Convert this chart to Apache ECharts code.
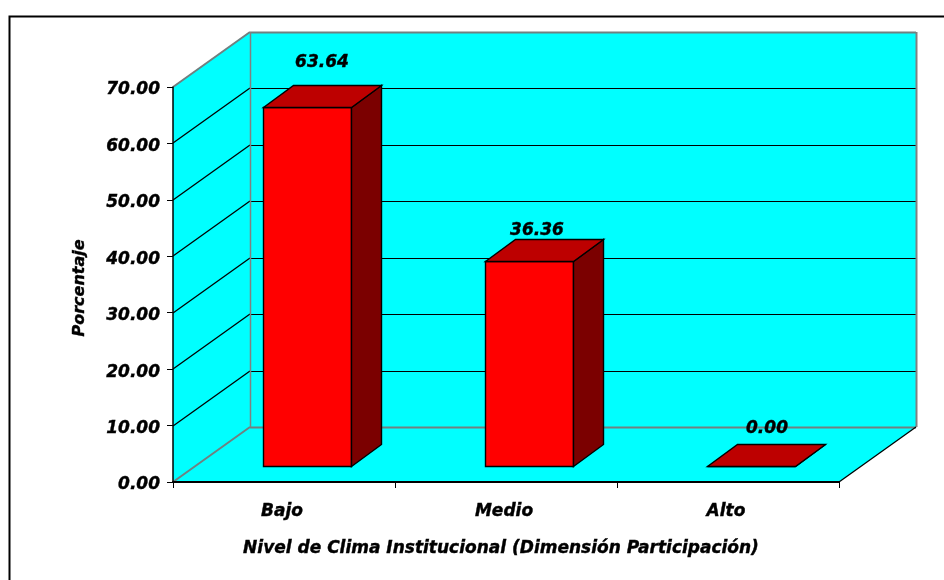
<!DOCTYPE html>
<html>
<head>
<meta charset="utf-8">
<title>Nivel de Clima Institucional</title>
<script src="https://cdn.jsdelivr.net/npm/echarts@6/dist/echarts.min.js"></script>
<style>
  html, body { margin: 0; padding: 0; background: #fff; }
  #chart { width: 944px; height: 580px; }
</style>
</head>
<body>
<div id="chart"></div>
<script>
const categories = ["Bajo", "Medio", "Alto"];
const values = [63.64, 36.36, 0.0];
const yTicks = [0, 10, 20, 30, 40, 50, 60, 70];

const FONT = '"DejaVu Sans", sans-serif';
// fake 3d: how far the back wall sits from the front plane
const DEPTH_X = 77;
const DEPTH_Y = 55;
// bar sits a bit behind the front plane
const BAR_X = 23;
const BAR_Y = 16;
const BAR_DX = 30;
const BAR_DY = 22;
// data labels were moved by hand in the original
const labelShift = [[0, -23], [-7, -9], [1, -16]];
// the original text is heavier than DejaVu bold
const HEAVY = { textBorderColor: "#000", textBorderWidth: 0.4 };

const chart = echarts.init(document.getElementById("chart"));

function line(x1, y1, x2, y2, color, width) {
  return {
    type: "line",
    shape: { x1, y1, x2, y2 },
    style: { stroke: color, lineWidth: width }
  };
}

function poly(points, fill, stroke) {
  return {
    type: "polygon",
    shape: { points },
    style: { fill, stroke: stroke || null, lineWidth: 1.4, lineJoin: "miter" }
  };
}

function renderWalls(params, api) {
  const r = params.coordSys;
  const left = r.x, right = r.x + r.width;
  const bottom = api.coord([0, 0])[1];
  const top = api.coord([0, yTicks[yTicks.length - 1]])[1];
  const children = [
    poly([[left, bottom], [left + DEPTH_X, bottom - DEPTH_Y], [left + DEPTH_X, top - DEPTH_Y], [left, top]], "#00FFFF"),
    poly([[left + DEPTH_X, top - DEPTH_Y], [right + DEPTH_X, top - DEPTH_Y], [right + DEPTH_X, bottom - DEPTH_Y], [left + DEPTH_X, bottom - DEPTH_Y]], "#00FFFF"),
    poly([[left, bottom], [right, bottom], [right + DEPTH_X, bottom - DEPTH_Y], [left + DEPTH_X, bottom - DEPTH_Y]], "#00FFFF")
  ];
  yTicks.forEach(function (t) {
    const y = Math.round(api.coord([0, t])[1]);
    const edge = t === 0 || t === 70;
    const color = edge ? "#708080" : "#000";
    children.push(line(left, y, left + DEPTH_X, y - DEPTH_Y, color, edge ? 2 : 1.3));
    children.push(line(left + DEPTH_X, y - DEPTH_Y + 0.5, right + DEPTH_X, y - DEPTH_Y + 0.5, color, edge ? 2 : 1));
  });
  children.push(line(left + DEPTH_X + 0.5, top - DEPTH_Y, left + DEPTH_X + 0.5, bottom - DEPTH_Y, "#808080", 1.5));
  children.push(line(right + DEPTH_X + 0.5, top - DEPTH_Y, right + DEPTH_X + 0.5, bottom - DEPTH_Y, "#808080", 2));
  children.push(line(right, bottom, right + DEPTH_X, bottom - DEPTH_Y, "#000", 1.3));
  return { type: "group", children };
}

function renderBar(params, api) {
  const i = api.value(0);
  const v = api.value(1);
  const half = (api.size([1, 0])[0] * 0.4) / 2;
  const c = api.coord([i, 0])[0] + BAR_X;
  const x1 = Math.round(c - half) + 0.5, x2 = Math.round(c + half) + 0.5;
  const yb = Math.round(api.coord([i, 0])[1] - BAR_Y) + 0.5;
  const yt = Math.round(api.coord([i, v])[1] - BAR_Y) + 0.5;
  const shift = labelShift[i];
  return {
    type: "group",
    children: [
      poly([[x1, yb], [x2, yb], [x2, yt], [x1, yt]], "#FF0000", "#000"),
      poly([[x2, yb], [x2 + BAR_DX, yb - BAR_DY], [x2 + BAR_DX, yt - BAR_DY], [x2, yt]], "#7B0000", "#000"),
      poly([[x1, yt], [x2, yt], [x2 + BAR_DX, yt - BAR_DY], [x1 + BAR_DX, yt - BAR_DY]], "#BD0000", "#000"),
      {
        type: "text",
        style: {
          x: c + BAR_DX / 2 + shift[0],
          y: yt - BAR_DY + shift[1],
          text: v.toFixed(2),
          fill: "#000",
          font: "italic bold 17px " + FONT,
          align: "center",
          verticalAlign: "middle",
          stroke: "#000",
          lineWidth: 0.4
        }
      }
    ]
  };
}

const option = {
  animation: false,
  backgroundColor: "#fff",
  textStyle: { fontFamily: FONT },
  graphic: [
    {
      type: "rect",
      shape: { x: 9.5, y: 16.5, width: 1000, height: 700 },
      style: { fill: null, stroke: "#000", lineWidth: 2 },
      silent: true
    }
  ],
  grid: { left: 173, right: 105, top: 87, bottom: 98 },
  xAxis: {
    type: "category",
    data: categories,
    z: 5,
    axisLine: { lineStyle: { color: "#000", width: 2 } },
    axisTick: { show: true, alignWithLabel: false, length: 6, lineStyle: { color: "#000", width: 1 } },
    axisLabel: Object.assign({ color: "#000", fontStyle: "italic", fontWeight: "bold", fontSize: 17, margin: 21, padding: [0, 4, 0, 0], fontFamily: FONT }, HEAVY),
    name: "Nivel de Clima Institucional (Dimensión Participación)",
    nameLocation: "middle",
    nameGap: 58,
    nameTextStyle: Object.assign({ color: "#000", fontStyle: "italic", fontWeight: "bold", fontSize: 17, fontFamily: FONT, padding: [0, 10, 0, 0] }, HEAVY)
  },
  yAxis: {
    type: "value",
    min: 0,
    max: 70,
    interval: 10,
    z: 5,
    splitLine: { show: false },
    axisLine: { show: true, lineStyle: { color: "#000", width: 1.5 } },
    axisTick: { show: true, length: 6, lineStyle: { color: "#000", width: 1 } },
    axisLabel: Object.assign({
      color: "#000",
      fontStyle: "italic",
      fontWeight: "bold",
      fontSize: 17,
      margin: 13,
      // labels sit slightly under the tick in the original
      verticalAlign: "top",
      lineHeight: 20,
      padding: [-7, 0, 0, 0],
      fontFamily: FONT,
      formatter: function (v) { return v.toFixed(2); }
    }, HEAVY),
    name: "Porcentaje",
    nameLocation: "middle",
    nameGap: 85,
    nameTextStyle: Object.assign({ color: "#000", fontStyle: "italic", fontWeight: "bold", fontSize: 16, fontFamily: FONT, padding: [0, 7, 0, 0] }, HEAVY)
  },
  series: [
    {
      type: "custom",
      name: "paredes",
      silent: true,
      z: 1,
      clip: false,
      data: [[0, 0]],
      encode: { x: 0, y: 1 },
      renderItem: renderWalls
    },
    {
      type: "custom",
      name: "Porcentaje",
      z: 3,
      clip: false,
      data: values.map(function (v, i) { return [i, v]; }),
      encode: { x: 0, y: 1 },
      renderItem: renderBar
    }
  ]
};

chart.setOption(option);
window.addEventListener("resize", function () { chart.resize(); });
</script>
</body>
</html>
